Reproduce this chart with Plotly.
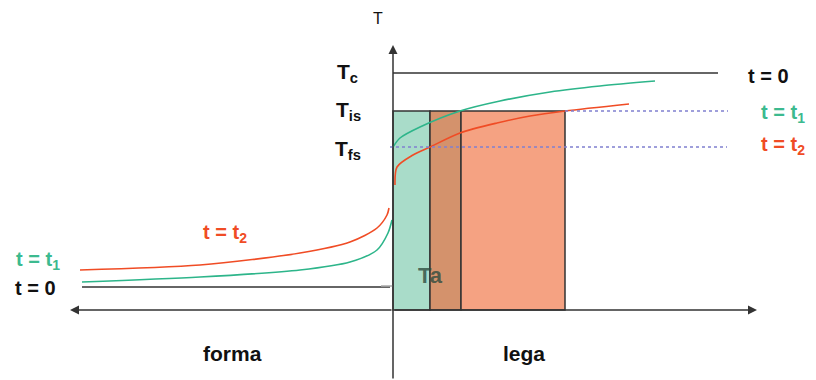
import plotly.graph_objects as go

# Schematic of temperature across the mould (forma) / alloy (lega) interface.
# Horizontal: position relative to the interface; vertical: temperature T.

# characteristic temperatures
T_levels = {"Tc": 237, "Tis": 199, "Tfs": 163}
T0_forma = 23

# mould side (negative positions) profiles
pos_forma_t1 = [-311, -193, -93, -43, -16, -5, -1]
T_forma_t1 = [28, 33, 40, 48, 60, 77, 90]
pos_forma_t2 = [-313, -193, -93, -43, -16, -6, -4]
T_forma_t2 = [40, 45, 57, 68, 82, 95, 102]

# alloy side (positive positions) profiles
pos_lega_t1 = [0, 7, 27, 67, 107, 157, 207, 262]
T_lega_t1 = [163, 172, 183, 199, 209, 218, 224, 229]
pos_lega_t2 = [2, 4, 20, 37, 67, 104, 137, 172, 236]
T_lega_t2 = [125, 143, 155, 163, 177, 187, 194, 199, 206]

# solidification zones (start, end) and fill colours
zone_edges = [0, 37, 68, 172]
zone_colors = ["#a9dcc9", "#d4926c", "#f5a282"]

# extents of the reference lines
tc_line_end = 325
t0_line_x = [-311, -3]
dotted_tis_x = [172, 335]
dotted_tfs_x = [-3, 334]
axis_x = [-323, 364]
axis_y_top = 265

GREEN = "#2db58a"
RED = "#f04c25"
FONT = "Liberation Sans"

fig = go.Figure()

# coloured zones
shapes = []
for i, col in enumerate(zone_colors):
    shapes.append(dict(type="rect", xref="x", yref="y",
                       x0=zone_edges[i], x1=zone_edges[i + 1],
                       y0=0, y1=T_levels["Tis"],
                       fillcolor=col, line=dict(color="#333333", width=1.5),
                       layer="below"))
# Tc line and t=0 line in the mould
shapes.append(dict(type="line", xref="x", yref="y", x0=0, x1=tc_line_end,
                   y0=T_levels["Tc"], y1=T_levels["Tc"],
                   line=dict(color="#333333", width=1.5)))
shapes.append(dict(type="line", xref="x", yref="y", x0=t0_line_x[0], x1=t0_line_x[1],
                   y0=T0_forma, y1=T0_forma,
                   line=dict(color="#333333", width=1.5)))
shapes.append(dict(type="line", xref="x", yref="y", x0=-12, x1=0,
                   y0=T0_forma + 1, y1=T0_forma + 1,
                   line=dict(color="#aaaaaa", width=1.5)))
# dotted isotherms
shapes.append(dict(type="line", xref="x", yref="y", x0=dotted_tis_x[0], x1=dotted_tis_x[1],
                   y0=T_levels["Tis"], y1=T_levels["Tis"],
                   line=dict(color="#8080d0", width=1.5, dash="dot")))
shapes.append(dict(type="line", xref="x", yref="y", x0=dotted_tfs_x[0], x1=dotted_tfs_x[1],
                   y0=T_levels["Tfs"], y1=T_levels["Tfs"],
                   line=dict(color="#8080d0", width=1.5, dash="dot")))

# temperature profiles
for xs, ys, col in [(pos_forma_t1, T_forma_t1, GREEN), (pos_forma_t2, T_forma_t2, RED),
                    (pos_lega_t1, T_lega_t1, GREEN), (pos_lega_t2, T_lega_t2, RED)]:
    fig.add_trace(go.Scatter(x=xs, y=ys, mode="lines",
                             line=dict(color=col, width=1.6, shape="spline", smoothing=0.8),
                             hoverinfo="skip", showlegend=False))

annotations = []
# axes arrows
annotations.append(dict(x=axis_x[0], y=0, ax=0, ay=0, xref="x", yref="y", axref="x", ayref="y",
                        showarrow=True, arrowhead=2, arrowsize=1.2, arrowwidth=1.5,
                        arrowcolor="#333333", text=""))
annotations.append(dict(x=axis_x[1], y=0, ax=0, ay=0, xref="x", yref="y", axref="x", ayref="y",
                        showarrow=True, arrowhead=2, arrowsize=1.2, arrowwidth=1.5,
                        arrowcolor="#333333", text=""))
annotations.append(dict(x=0, y=axis_y_top, ax=0, ay=-70, xref="x", yref="y", axref="x", ayref="y",
                        showarrow=True, arrowhead=2, arrowsize=1.2, arrowwidth=1.5,
                        arrowcolor="#333333", text=""))


def label(x, y, text, color="#111111", size=20, bold=True, xanchor="center"):
    t = f"<b>{text}</b>" if bold else text
    annotations.append(dict(x=x, y=y, xref="x", yref="y", text=t, showarrow=False,
                            xanchor=xanchor, yanchor="middle",
                            font=dict(family=FONT, size=size, color=color)))


label(-15, 292, "T", size=16, bold=False)
label(-46, T_levels["Tc"], "T<sub>c</sub>", size=21)
label(-45, T_levels["Tis"], "T<sub>is</sub>", size=21)
label(-45, T_levels["Tfs"] - 3, "T<sub>fs</sub>", size=21)
label(-355, 50, "t = t<sub>1</sub>", color="#3cba8f")
label(-358, 22, "t = 0")
label(-168, 77, "t = t<sub>2</sub>", color=RED)
label(375, 234, "t = 0")
label(390, 197, "t = t<sub>1</sub>", color="#3cba8f")
label(390, 165, "t = t<sub>2</sub>", color=RED)
label(-161, -43, "forma", size=21)
label(131, -43, "lega", size=21)
label(37, 35, "Ta", color="rgba(45,75,62,0.8)", size=22)

fig.update_layout(
    width=816, height=380,
    margin=dict(l=0, r=0, t=0, b=0),
    paper_bgcolor="white", plot_bgcolor="white",
    xaxis=dict(range=[-393, 423], visible=False, fixedrange=True),
    yaxis=dict(range=[-70, 310], visible=False, fixedrange=True),
    shapes=shapes, annotations=annotations,
    showlegend=False,
)

fig.write_html("out.html")
